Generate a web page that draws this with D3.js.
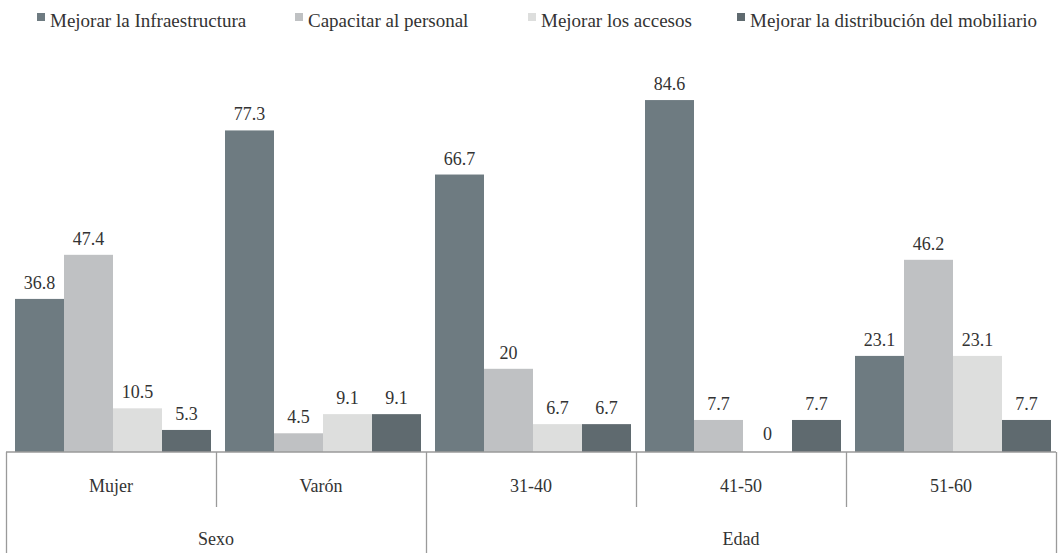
<!DOCTYPE html>
<html>
<head>
<meta charset="utf-8">
<script src="https://cdn.jsdelivr.net/npm/d3@7"></script>
<style>
  body { margin: 0; background: #fff; }
  svg text { font-family: "Liberation Serif", "DejaVu Serif", "Times New Roman", Times, serif; }
</style>
</head>
<body>
<div id="graph"></div>
<script>
// Données
let groupes = ["Sexo", "Edad"];
let categories = ["Mujer", "Varón", "31-40", "41-50", "51-60"];
let groupeDeCategorie = ["Sexo", "Sexo", "Edad", "Edad", "Edad"];
let series = ["Mejorar la Infraestructura", "Capacitar al personal", "Mejorar los accesos", "Mejorar la distribución del mobiliario"];
let infraestructura = [36.8, 77.3, 66.7, 84.6, 23.1];
let capacitar = [47.4, 4.5, 20, 7.7, 46.2];
let accesos = [10.5, 9.1, 6.7, 0, 23.1];
let mobiliario = [5.3, 9.1, 6.7, 7.7, 7.7];
let couleurs = ["#6e7b81", "#bfc1c3", "#dddedd", "#5f6a6f"];

let valeurs = [infraestructura, capacitar, accesos, mobiliario];

let donnees = [];
categories.forEach(function(c, i) {
  series.forEach(function(s, j) {
    donnees.push({ cat: c, serie: s, val: valeurs[j][i] });
  });
});

let largeurTotale = 1061, hauteurTotale = 553;
let gauche = 6, droite = 1056, base = 452;

// Une bande par catégorie, les barres occupent la bande sauf un petit espace
let echelleX = d3.scaleBand()
    .domain(categories)
    .range([gauche, droite])
    .padding(0);
let echelleSerie = d3.scaleBand()
    .domain(series)
    .range([9, echelleX.bandwidth() - 5]);
let echelleY = d3.scaleLinear()
    .domain([0, 100])
    .range([base, base - 416]);
let echelleCouleur = d3.scaleOrdinal()
    .domain(series)
    .range(couleurs);

let svg = d3.select("#graph").append("svg")
    .attr("width", largeurTotale)
    .attr("height", hauteurTotale);

// Barres
svg.selectAll(".bar")
  .data(donnees)
  .enter()
  .append("rect")
  .attr("class", "bar")
  .attr("x", function(d) { return echelleX(d.cat) + echelleSerie(d.serie); })
  .attr("width", echelleSerie.bandwidth())
  .attr("y", function(d) { return echelleY(d.val); })
  .attr("height", function(d) { return base - echelleY(d.val); })
  .style("fill", function(d) { return echelleCouleur(d.serie); });

// Etiquettes des valeurs
svg.selectAll(".val")
  .data(donnees)
  .enter()
  .append("text")
  .attr("class", "val")
  .attr("x", function(d) { return echelleX(d.cat) + echelleSerie(d.serie) + echelleSerie.bandwidth() / 2; })
  .attr("y", function(d) { return echelleY(d.val) - (d.val === 0 ? 12 : 10); })
  .attr("text-anchor", "middle")
  .style("font-size", "18px")
  .style("fill", "#333")
  .text(function(d) { return d.val; });

// Axe X : ligne de base et séparateurs
let traits = svg.append("g").attr("stroke", "#9a9a9a").attr("stroke-width", 1.3);
traits.append("line")
  .attr("x1", gauche).attr("x2", droite)
  .attr("y1", base).attr("y2", base);
let bords = categories.map(function(c) { return echelleX(c); }).concat([droite]);
bords.forEach(function(x, i) {
  let fin = (i === 0 || i === categories.length || groupeDeCategorie[i] !== groupeDeCategorie[i - 1]) ? hauteurTotale : 507;
  traits.append("line")
    .attr("x1", Math.round(x) + 0.5).attr("x2", Math.round(x) + 0.5)
    .attr("y1", base).attr("y2", fin);
});

// Noms des catégories
svg.selectAll(".cat")
  .data(categories)
  .enter()
  .append("text")
  .attr("class", "cat")
  .attr("x", function(d) { return echelleX(d) + echelleX.bandwidth() / 2; })
  .attr("y", 492)
  .attr("text-anchor", "middle")
  .style("font-size", "18px")
  .style("fill", "#333")
  .text(function(d) { return d; });

// Noms des groupes
svg.selectAll(".grp")
  .data(groupes)
  .enter()
  .append("text")
  .attr("class", "grp")
  .attr("x", function(g) {
    let cats = categories.filter(function(c, i) { return groupeDeCategorie[i] === g; });
    return (echelleX(cats[0]) + echelleX(cats[cats.length - 1]) + echelleX.bandwidth()) / 2;
  })
  .attr("y", 545)
  .attr("text-anchor", "middle")
  .style("font-size", "18px")
  .style("fill", "#333")
  .text(function(d) { return d; });

// Légende
let legendeX = [37, 295, 528, 737];
let legende = svg.selectAll(".leg")
  .data(series)
  .enter()
  .append("g")
  .attr("class", "leg")
  .attr("transform", function(d, i) { return "translate(" + legendeX[i] + ",0)"; });
legende.append("rect")
  .attr("x", 0).attr("y", 13)
  .attr("width", 8).attr("height", 8)
  .style("fill", function(d) { return echelleCouleur(d); });
legende.append("text")
  .attr("x", 13).attr("y", 27)
  .style("font-size", "19px")
  .style("fill", "#333")
  .text(function(d) { return d; });
</script>
</body>
</html>
